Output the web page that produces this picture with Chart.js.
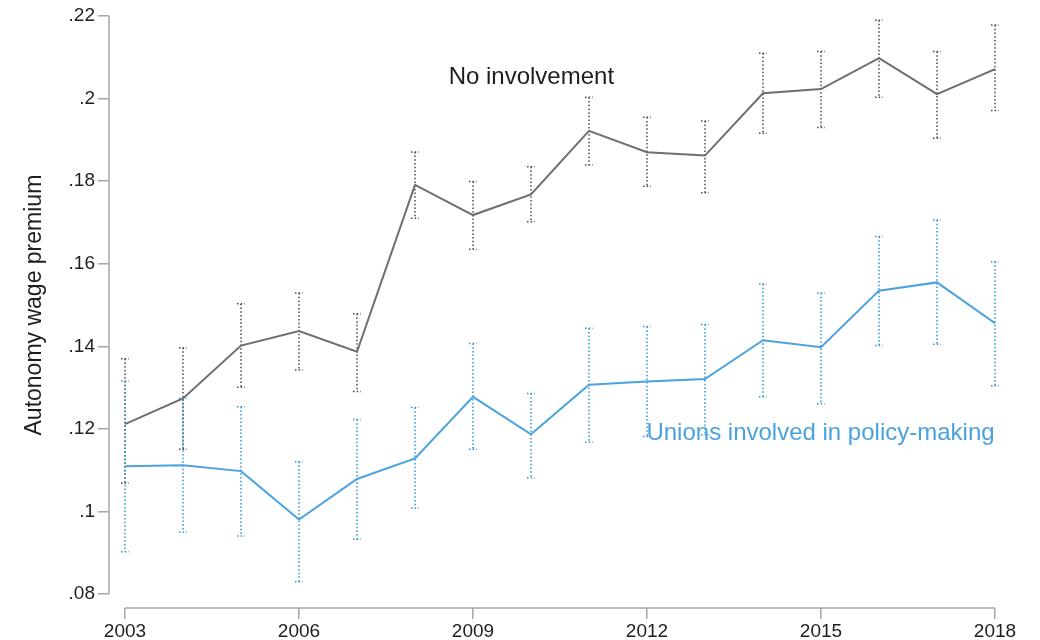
<!DOCTYPE html>
<html>
<head>
<meta charset="utf-8">
<script src="https://cdn.jsdelivr.net/npm/chart.js@4.4.1/dist/chart.umd.min.js"></script>
<style>
  html, body { margin: 0; padding: 0; background: #ffffff; }
  #wrap { width: 1040px; height: 640px; }
</style>
</head>
<body>
<div id="wrap"><canvas id="chart" width="1040" height="640"></canvas></div>
<script>
// Survey years
const years = [2003, 2004, 2005, 2006, 2007, 2008, 2009, 2010, 2011, 2012, 2013, 2014, 2015, 2016, 2017, 2018];

// Autonomy wage premium, no union involvement: estimate and 95% CI bounds
const noInvolvement     = [0.1212, 0.1274, 0.1402, 0.1437, 0.1387, 0.1791, 0.1718, 0.1768, 0.1922, 0.1870, 0.1862, 0.2013, 0.2023, 0.2098, 0.2011, 0.2071];
const noInvolvementLow  = [0.1069, 0.1151, 0.1301, 0.1343, 0.1291, 0.1710, 0.1635, 0.1702, 0.1839, 0.1788, 0.1772, 0.1916, 0.1930, 0.2003, 0.1904, 0.1971];
const noInvolvementHigh = [0.1370, 0.1397, 0.1503, 0.1529, 0.1479, 0.1871, 0.1799, 0.1835, 0.2003, 0.1955, 0.1946, 0.2110, 0.2114, 0.2190, 0.2114, 0.2178];

// Unions involved in policy-making: estimate and 95% CI bounds
const unionsInvolved     = [0.1110, 0.1112, 0.1098, 0.0981, 0.1079, 0.1129, 0.1278, 0.1187, 0.1307, 0.1315, 0.1321, 0.1415, 0.1398, 0.1535, 0.1555, 0.1456];
const unionsInvolvedLow  = [0.0903, 0.0950, 0.0941, 0.0830, 0.0933, 0.1008, 0.1151, 0.1082, 0.1168, 0.1182, 0.1186, 0.1278, 0.1261, 0.1402, 0.1405, 0.1305];
const unionsInvolvedHigh = [0.1316, 0.1274, 0.1254, 0.1121, 0.1223, 0.1252, 0.1407, 0.1286, 0.1444, 0.1448, 0.1453, 0.1551, 0.1529, 0.1666, 0.1706, 0.1605];

// Axis ticks
const xTicks = [2003, 2006, 2009, 2012, 2015, 2018];
const yTicks = [0.08, 0.10, 0.12, 0.14, 0.16, 0.18, 0.20, 0.22];

const FONT = "'Liberation Sans', Arial, Helvetica, sans-serif";
const GRAY = '#6e6e6e';
const GRAY_CI = '#4a4a4a';
const BLUE = '#4aa3de';
const BLUE_CI = '#2f95d6';
const AXIS = '#a6a6a6';
const TEXT = '#1e1e1e';

const toPoints = (vals) => years.map((yr, i) => ({ x: yr, y: vals[i] }));

// Dotted confidence-interval whiskers with small caps
const ciPlugin = {
  id: 'ciWhiskers',
  beforeDatasetsDraw(chart) {
    const { ctx, scales: { x, y } } = chart;
    const sets = [
      { lo: noInvolvementLow, hi: noInvolvementHigh, color: GRAY_CI },
      { lo: unionsInvolvedLow, hi: unionsInvolvedHigh, color: BLUE_CI }
    ];
    ctx.save();
    ctx.lineWidth = 1.5;
    ctx.setLineDash([1.5, 2.2]);
    sets.forEach(s => {
      ctx.strokeStyle = s.color;
      years.forEach((yr, i) => {
        const px = x.getPixelForValue(yr);
        const top = y.getPixelForValue(s.hi[i]);
        const bot = y.getPixelForValue(s.lo[i]);
        ctx.beginPath();
        ctx.moveTo(px, top);
        ctx.lineTo(px, bot);
        ctx.moveTo(px - 4, top);
        ctx.lineTo(px + 4, top);
        ctx.moveTo(px - 4, bot);
        ctx.lineTo(px + 4, bot);
        ctx.stroke();
      });
    });
    ctx.restore();
  }
};

// Detached axis lines, series labels and the y-axis title
const decorPlugin = {
  id: 'decor',
  afterDraw(chart) {
    const { ctx, scales: { x, y } } = chart;
    ctx.save();
    ctx.strokeStyle = AXIS;
    ctx.lineWidth = 1.5;
    ctx.setLineDash([]);
    // y axis line from .22 to .08
    const ax = y.right;
    ctx.beginPath();
    ctx.moveTo(ax, y.getPixelForValue(yTicks[yTicks.length - 1]));
    ctx.lineTo(ax, y.getPixelForValue(yTicks[0]));
    ctx.stroke();
    // x axis line from first to last year
    const ay = x.top;
    ctx.beginPath();
    ctx.moveTo(x.getPixelForValue(xTicks[0]), ay);
    ctx.lineTo(x.getPixelForValue(xTicks[xTicks.length - 1]), ay);
    ctx.stroke();

    // series labels
    ctx.font = '24px ' + FONT;
    ctx.textBaseline = 'alphabetic';
    ctx.textAlign = 'left';
    ctx.fillStyle = TEXT;
    ctx.fillText('No involvement', x.getPixelForValue(2008.58), y.getPixelForValue(0.2035));
    ctx.fillStyle = BLUE;
    ctx.fillText('Unions involved in policy-making', x.getPixelForValue(2011.99), y.getPixelForValue(0.1173));

    // y axis title
    ctx.fillStyle = TEXT;
    ctx.font = '23px ' + FONT;
    ctx.textAlign = 'center';
    ctx.textBaseline = 'middle';
    const cy = (y.getPixelForValue(0.22) + y.getPixelForValue(0.08)) / 2;
    ctx.translate(35, cy);
    ctx.rotate(-Math.PI / 2);
    ctx.fillText('Autonomy wage premium', 0, 0);
    ctx.restore();
  }
};

const fmtY = (v) => {
  const s = (Math.round(v * 100) / 100).toString();
  return s.replace(/^0\./, '.');
};

new Chart(document.getElementById('chart'), {
  type: 'line',
  data: {
    datasets: [
      {
        label: 'No involvement',
        data: toPoints(noInvolvement),
        borderColor: GRAY,
        borderWidth: 2,
        pointRadius: 0,
        tension: 0,
        fill: false
      },
      {
        label: 'Unions involved in policy-making',
        data: toPoints(unionsInvolved),
        borderColor: BLUE,
        borderWidth: 2,
        pointRadius: 0,
        tension: 0,
        fill: false
      }
    ]
  },
  options: {
    responsive: false,
    animation: false,
    devicePixelRatio: 1,
    layout: { padding: { top: 16, right: 45, bottom: 0, left: 0 } },
    plugins: {
      legend: { display: false },
      tooltip: { enabled: false }
    },
    scales: {
      x: {
        type: 'linear',
        min: 2003 - 16 / 58,
        max: 2018,
        afterFit: (s) => { s.height = 32; },
        afterBuildTicks: (s) => { s.ticks = xTicks.map(v => ({ value: v })); },
        border: { display: false },
        grid: { drawOnChartArea: false, drawTicks: true, tickLength: 11, color: AXIS, lineWidth: 1.5 },
        ticks: {
          color: TEXT,
          font: { family: FONT, size: 19 },
          padding: 1,
          maxRotation: 0,
          autoSkip: false,
          callback: (v) => String(v)
        }
      },
      y: {
        type: 'linear',
        min: 0.22 - (608 - 16) / 4130,
        max: 0.22,
        afterFit: (s) => { s.width = 109; },
        afterBuildTicks: (s) => { s.ticks = yTicks.map(v => ({ value: v })); },
        border: { display: false },
        grid: { drawOnChartArea: false, drawTicks: true, tickLength: 11, color: AXIS, lineWidth: 1.5 },
        ticks: {
          color: TEXT,
          font: { family: FONT, size: 19 },
          padding: 3,
          autoSkip: false,
          callback: (v) => fmtY(v)
        }
      }
    }
  },
  plugins: [ciPlugin, decorPlugin]
});
</script>
</body>
</html>
